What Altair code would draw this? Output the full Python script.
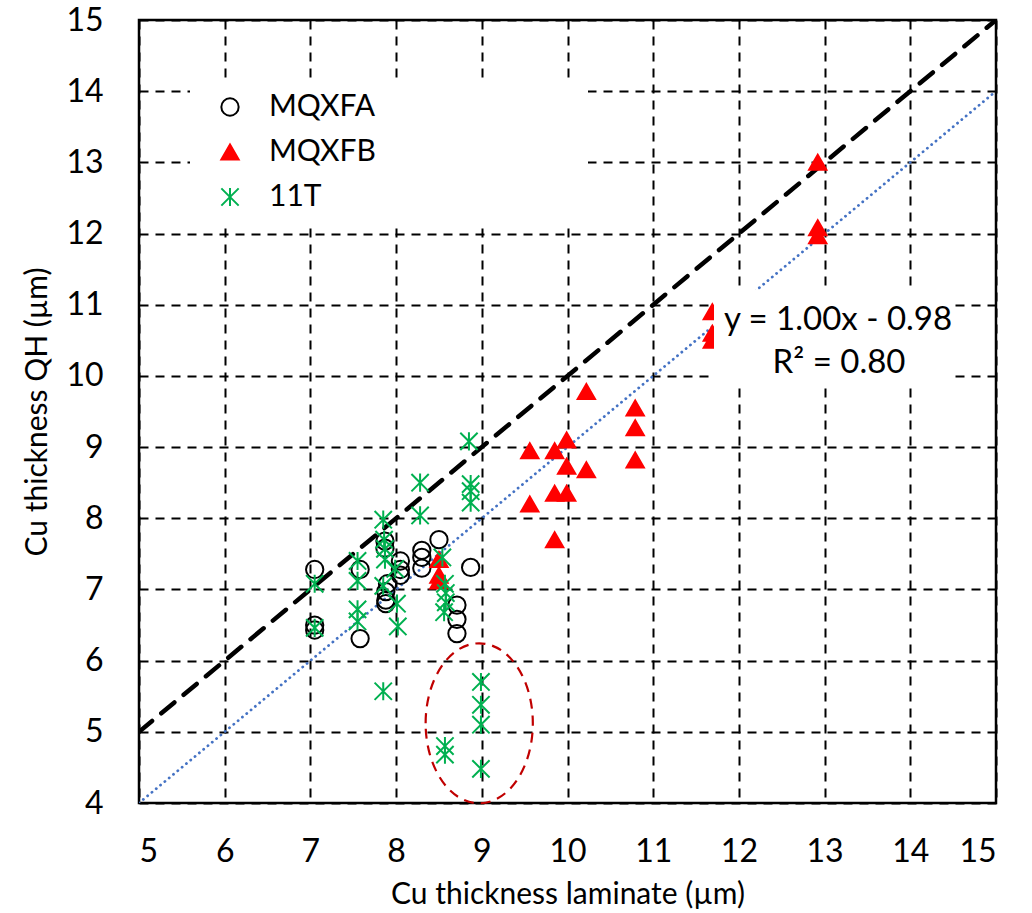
import altair as alt
import pandas as pd

# ---- data ----
mqxfa_x = [7.05, 7.05, 7.05, 7.58, 7.58, 7.87, 7.87, 7.9, 7.88, 7.88, 7.88, 8.05, 8.05, 8.05, 8.3, 8.3, 8.3, 8.5, 8.87, 8.71, 8.71, 8.71]
mqxfa_y = [7.28, 6.5, 6.43, 7.28, 6.31, 7.68, 7.58, 7.08, 6.97, 6.85, 6.8, 7.4, 7.28, 7.2, 7.55, 7.45, 7.3, 7.7, 7.31, 6.78, 6.58, 6.38]

mqxfb_x = [8.5, 8.5, 8.5, 9.56, 9.56, 9.85, 9.85, 9.85, 9.99, 9.99, 9.99, 10.22, 10.22, 10.79, 10.79, 10.79, 11.69, 11.69, 11.69, 12.92, 12.92, 12.92]
mqxfb_y = [7.42, 7.2, 7.12, 8.95, 8.2, 8.95, 8.35, 7.7, 9.1, 8.73, 8.35, 9.78, 8.68, 9.55, 9.27, 8.82, 10.9, 10.6, 10.5, 13.0, 12.08, 11.97]

t11_x = [7.05, 7.05, 7.55, 7.55, 7.55, 7.55, 7.85, 7.86, 7.87, 7.87, 7.85, 7.99, 8.01, 8.02, 8.28, 8.28, 8.54, 8.57, 8.58, 8.58, 8.56, 8.85, 8.87, 8.87, 8.87, 7.85, 8.57, 8.57, 8.99, 8.99, 8.99, 8.99]
t11_y = [7.08, 6.46, 7.4, 7.12, 6.72, 6.55, 7.98, 7.7, 7.57, 7.42, 7.05, 7.29, 6.8, 6.48, 8.5, 8.04, 7.45, 7.08, 6.95, 6.82, 6.68, 9.08, 8.48, 8.38, 8.22, 5.57, 4.8, 4.68, 5.7, 5.38, 5.1, 4.48]

series_names = ["MQXFA", "MQXFB", "11T"]

# 1:1 line and linear fit line (y = 1.00x - 0.98)
ref_x = [5, 15]
ref_y = [5, 15]
fit_x = [5, 15]
fit_y = [4, 14]

# highlighted group (ellipse centre)
ell_x = [8.97]
ell_y = [5.12]

eq_line1 = "y = 1.00x - 0.98"
eq_line2 = "R² = 0.80"

x_ticks = [5, 6, 7, 8, 9, 10, 11, 12, 13, 14, 15]
y_ticks = [4, 5, 6, 7, 8, 9, 10, 11, 12, 13, 14, 15]

# ---- tables ----
rows = []
for name, xs_, ys_ in [("MQXFA", mqxfa_x, mqxfa_y), ("MQXFB", mqxfb_x, mqxfb_y), ("11T", t11_x, t11_y)]:
    for a, b in zip(xs_, ys_):
        rows.append({"series": name, "x": a, "y": b})
pts = pd.DataFrame(rows)
ref_df = pd.DataFrame({"x": ref_x, "y": ref_y})
fit_df = pd.DataFrame({"x": fit_x, "y": fit_y})
ell_df = pd.DataFrame({"x": ell_x, "y": ell_y})
one = alt.Data(values=[{}])

FONT = "Lato"
W, H = 857, 783

xscale = alt.Scale(domain=[5, 15], nice=False, zero=False)
yscale = alt.Scale(domain=[4, 15], nice=False, zero=False)

STAR = "M-1,-1L1,1M1,-1L-1,1M0,-1.05L0,1.05"
ELLIPSE = "M-0.67,0A0.67,1 0 1,1 0.67,0A0.67,1 0 1,1 -0.67,0Z"

axis_common = dict(
    grid=True, gridColor="black", gridDash=[9, 7], gridWidth=2,
    ticks=False, domain=False, labelOverlap=False, format="d",
    labelFont=FONT, labelFontSize=32, labelColor="black",
    titleFont=FONT, titleFontSize=30, titleFontWeight="normal", titleColor="black",
)

leg = alt.Legend(
    title=None, orient="none", legendX=76, legendY=72,
    labelFont=FONT, labelFontSize=30, labelColor="black", labelOffset=24,
    symbolSize=300, symbolStrokeWidth=2, rowPadding=15,
)

base_x = alt.X("x:Q", scale=xscale, axis=alt.Axis(
    title="Cu thickness laminate (µm)", values=x_ticks,
    labelPadding=33, titlePadding=12, **axis_common))
base_y = alt.Y("y:Q", scale=yscale, axis=alt.Axis(
    title="Cu thickness QH (µm)", values=y_ticks,
    labelPadding=36, titlePadding=13, **axis_common))

legend_mask = alt.Chart(one).mark_rect(color="white").encode(
    x=alt.value(51), x2=alt.value(449), y=alt.value(63), y2=alt.value(202))

ref_line = alt.Chart(ref_df).mark_line(
    color="black", strokeWidth=4.5, strokeDash=[17, 12], strokeCap="round", clip=True
).encode(x=alt.X("x:Q", scale=xscale), y=alt.Y("y:Q", scale=yscale))

fit_line = alt.Chart(fit_df).mark_line(
    color="#4472C4", strokeWidth=2.8, strokeDash=[0.1, 5.5], strokeCap="round", clip=True
).encode(x=alt.X("x:Q", scale=xscale), y=alt.Y("y:Q", scale=yscale))

points = alt.Chart(pts).mark_point(strokeWidth=2, opacity=1).encode(
    x=base_x, y=base_y,
    shape=alt.Shape("series:N", scale=alt.Scale(domain=series_names, range=["circle", "triangle-up", STAR]), legend=leg),
    stroke=alt.Stroke("series:N", scale=alt.Scale(domain=series_names, range=["black", "#FF0000", "#00B050"]), legend=leg),
    fill=alt.Fill("series:N", scale=alt.Scale(domain=series_names, range=["transparent", "#FF0000", "transparent"]), legend=leg),
    size=alt.value(300),
    order=alt.Order("ord:Q"),
).transform_calculate(
    ord="datum.series == 'MQXFA' ? 0 : (datum.series == 'MQXFB' ? 1 : 2)"
)

ellipse = alt.Chart(ell_df).mark_point(
    shape=ELLIPSE, size=25600, filled=False, stroke="#C00000", strokeWidth=2.2,
    strokeDash=[10, 7], opacity=1
).encode(x=alt.X("x:Q", scale=xscale), y=alt.Y("y:Q", scale=yscale))

eq_mask = alt.Chart(one).mark_rect(color="white").encode(
    x=alt.value(575), x2=alt.value(816), y=alt.value(270), y2=alt.value(365))

eq_text1 = alt.Chart(one).mark_text(
    text=eq_line1, font=FONT, fontSize=33, color="black", align="center", baseline="alphabetic"
).encode(x=alt.value(699), y=alt.value(310))
eq_text2 = alt.Chart(one).mark_text(
    text=eq_line2, font=FONT, fontSize=33, color="black", align="center", baseline="alphabetic"
).encode(x=alt.value(700), y=alt.value(353))

chart = alt.layer(
    legend_mask, ref_line, fit_line, points, ellipse, eq_mask, eq_text1, eq_text2
).properties(
    width=W, height=H,
    autosize=alt.AutoSizeParams(type="none"),
    padding={"left": 139, "top": 20, "right": 36, "bottom": 110},
    background="white",
).configure_view(
    stroke="black", strokeWidth=2.5
)

chart.save("out.html", embed_options={"renderer": "svg", "actions": False})
